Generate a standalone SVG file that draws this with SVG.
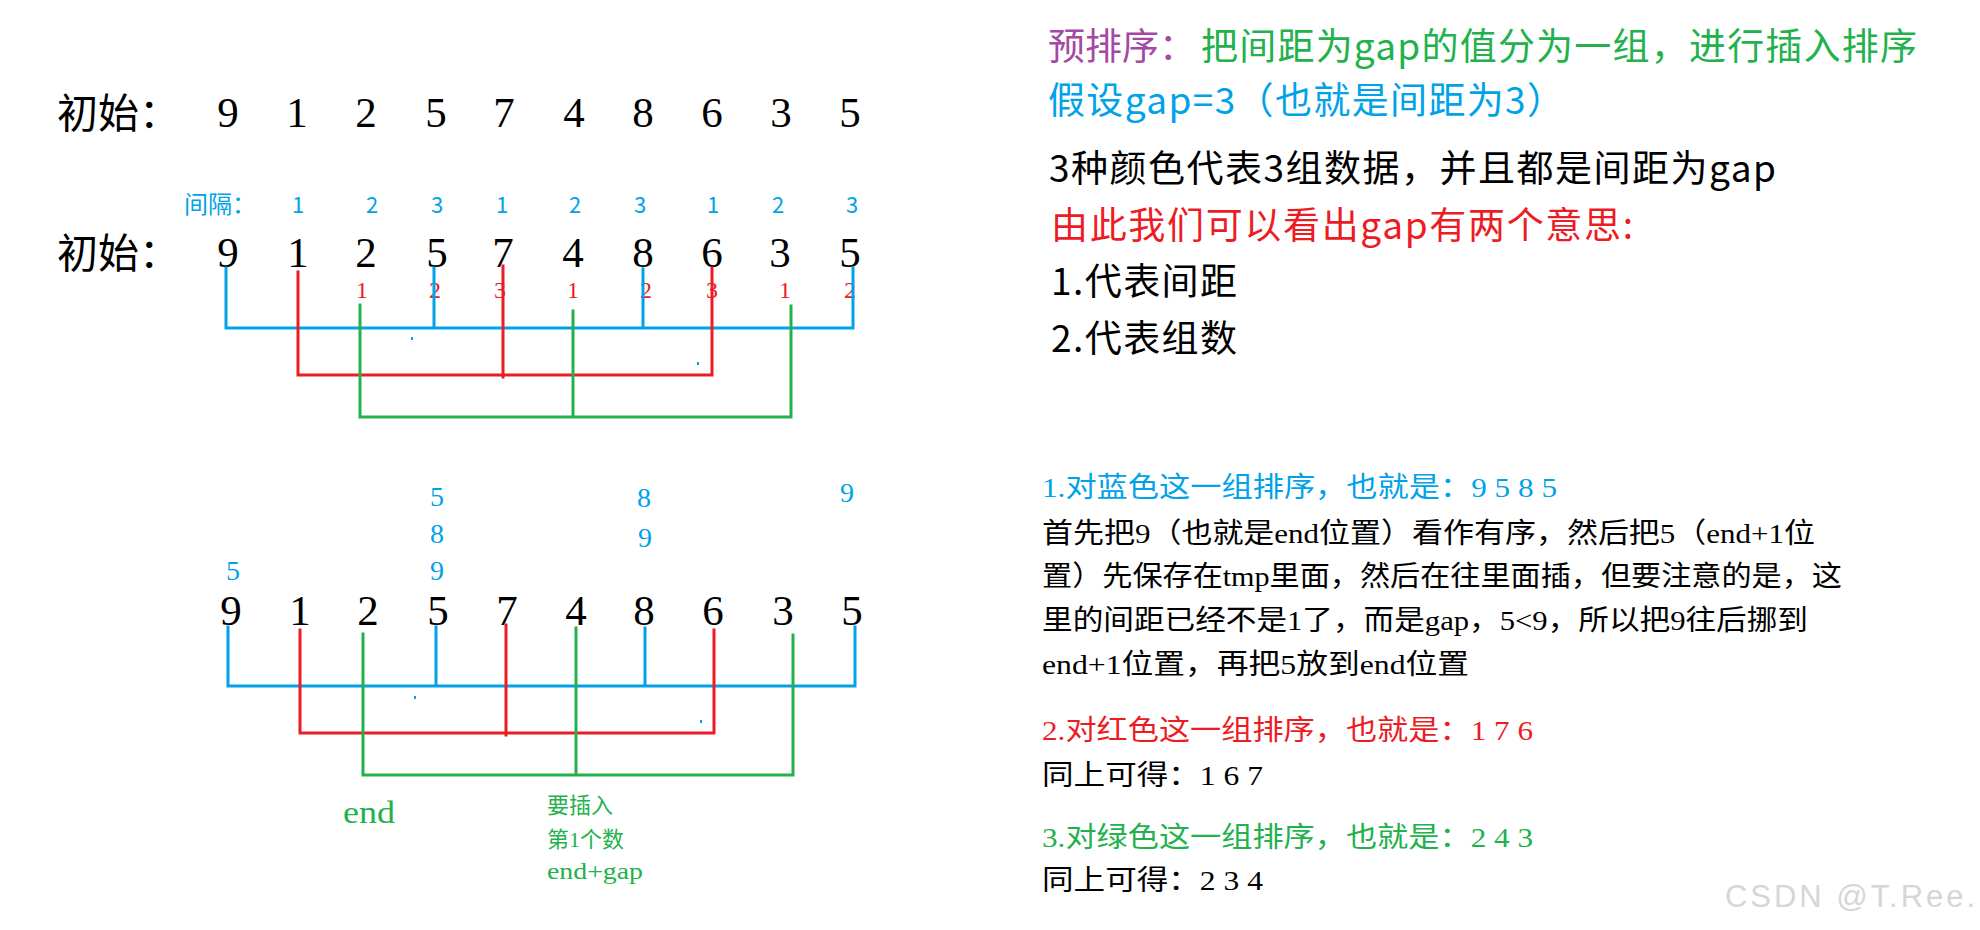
<svg xmlns="http://www.w3.org/2000/svg" width="1980" height="930" viewBox="0 0 1980 930">
<style>
.cjk{font-family:"Noto Sans CJK SC","Noto Sans",sans-serif}
.ser{font-family:"Liberation Serif","Noto Sans CJK SC",serif}
.dig{font-family:"Liberation Serif",serif;text-anchor:middle}
.bk{fill:#000}
.bl{fill:#00A2E8}
.rd{fill:#ED1C24}
.gr{fill:#22B14C}
.pu{fill:#A349A4}
.big{font-size:43px}
.lb,.lr,.lg{fill:none;stroke-width:3;stroke-linecap:square}
.lb{stroke:#00A2E8}
.lr{stroke:#ED1C24}
.lg{stroke:#22B14C}
</style>
<rect width="1980" height="930" fill="#fff"/>

<g id="row1">
<text class="cjk bk" x="57" y="128" font-size="41">初始：</text>
<g class="dig bk big">
<text x="228" y="127">9</text><text x="297" y="127">1</text><text x="366" y="127">2</text><text x="436" y="127">5</text><text x="504" y="127">7</text><text x="574" y="127">4</text><text x="643" y="127">8</text><text x="712" y="127">6</text><text x="781" y="127">3</text><text x="850" y="127">5</text>
</g>
</g>

<g id="gap-labels">
<text class="cjk bl" x="184" y="213" font-size="24">间隔：</text>
<g class="cjk bl" font-size="22" text-anchor="middle">
<text x="298" y="213">1</text><text x="372" y="213">2</text><text x="437" y="213">3</text><text x="502" y="213">1</text><text x="575" y="213">2</text><text x="640" y="213">3</text><text x="713" y="213">1</text><text x="778" y="213">2</text><text x="852" y="213">3</text>
</g>
</g>

<g id="row2">
<text class="cjk bk" x="57" y="268" font-size="41">初始：</text>
<g class="dig bk big">
<text x="228" y="267">9</text><text x="298" y="267">1</text><text x="366" y="267">2</text><text x="437" y="267">5</text><text x="503" y="267">7</text><text x="573" y="267">4</text><text x="643" y="267">8</text><text x="712" y="267">6</text><text x="780" y="267">3</text><text x="850" y="267">5</text>
</g>
<g class="dig rd" font-size="24">
<text x="362" y="298">1</text><text x="435" y="298">2</text><text x="500" y="298">3</text><text x="573" y="298">1</text><text x="646" y="298">2</text><text x="712" y="298">3</text><text x="785" y="298">1</text><text x="850" y="298">2</text>
</g>
</g>

<g id="row3">
<g class="dig bl" font-size="28">
<text x="233" y="580">5</text>
<text x="437" y="506">5</text><text x="437" y="543">8</text><text x="437" y="580">9</text>
<text x="644" y="507">8</text><text x="645" y="547">9</text>
<text x="847" y="502">9</text>
</g>
<g class="dig bk big">
<text x="231" y="625">9</text><text x="300" y="625">1</text><text x="368" y="625">2</text><text x="438" y="625">5</text><text x="507" y="625">7</text><text x="576" y="625">4</text><text x="644" y="625">8</text><text x="713" y="625">6</text><text x="783" y="625">3</text><text x="852" y="625">5</text>
</g>
<text class="ser gr" x="343" y="823" font-size="31" textLength="52" lengthAdjust="spacingAndGlyphs">end</text>
<text class="ser gr" x="547" y="813" font-size="22">要插入</text>
<text class="ser gr" x="547" y="847" font-size="22">第1个数</text>
<text class="ser gr" x="547" y="879" font-size="24" textLength="96" lengthAdjust="spacingAndGlyphs">end+gap</text>
</g>

<g id="connectors">
<path class="lb" d="M226 268 V328 H853 V268 M434 268 V328 M643 269 V328"/>
<path class="lr" d="M298 272 V375 H712 V268 M503 266 V377"/>
<path class="lg" d="M360 305 V417 H791 V306 M573 311 V417"/>
<path class="lb" d="M228 627 V686 H855 V627 M436 627 V686 M645 628 V686"/>
<path class="lr" d="M300 630 V733 H714 V630 M506 625 V735"/>
<path class="lg" d="M363 634 V775 H793 V635 M576 628 V775"/>
<g fill="#00A2E8">
<rect x="411" y="337" width="2" height="3"/>
<rect x="697" y="362" width="2" height="3"/>
<rect x="414" y="696" width="2" height="3"/>
<rect x="700" y="720" width="2" height="3"/>
</g>
</g>

<g id="notes-top" class="cjk" font-size="37">
<text class="pu" x="1048" y="60">预排序：</text>
<text class="gr" x="1201" y="60" textLength="716">把间距为gap的值分为一组，进行插入排序</text>
<text class="bl" x="1048" y="114" textLength="516">假设gap=3（也就是间距为3）</text>
<text class="bk" x="1049" y="182" textLength="727">3种颜色代表3组数据，并且都是间距为gap</text>
<text class="rd" x="1051" y="239" textLength="582">由此我们可以看出gap有两个意思:</text>
<text class="bk" x="1051" y="295" textLength="186">1.代表间距</text>
<text class="bk" x="1051" y="352" textLength="186">2.代表组数</text>
</g>

<g id="notes-bottom" class="ser" font-size="28">
<text class="bl" x="1042" y="497" textLength="515" lengthAdjust="spacingAndGlyphs">1.对蓝色这一组排序，也就是：9 5 8 5</text>
<text class="bk" x="1042" y="543" textLength="773" lengthAdjust="spacingAndGlyphs">首先把9（也就是end位置）看作有序，然后把5（end+1位</text>
<text class="bk" x="1042" y="586" textLength="800" lengthAdjust="spacingAndGlyphs">置）先保存在tmp里面，然后在往里面插，但要注意的是，这</text>
<text class="bk" x="1042" y="630" textLength="766" lengthAdjust="spacingAndGlyphs">里的间距已经不是1了，而是gap，5&lt;9，所以把9往后挪到</text>
<text class="bk" x="1042" y="674" textLength="427" lengthAdjust="spacingAndGlyphs">end+1位置，再把5放到end位置</text>
<text class="rd" x="1042" y="740" textLength="491" lengthAdjust="spacingAndGlyphs">2.对红色这一组排序，也就是：1 7 6</text>
<text class="bk" x="1042" y="785" textLength="221" lengthAdjust="spacingAndGlyphs">同上可得：1 6 7</text>
<text class="gr" x="1042" y="847" textLength="491" lengthAdjust="spacingAndGlyphs">3.对绿色这一组排序，也就是：2 4 3</text>
<text class="bk" x="1042" y="890" textLength="221" lengthAdjust="spacingAndGlyphs">同上可得：2 3 4</text>
</g>

<g id="watermark">
<text x="1725" y="907" font-family="Liberation Sans, Arial, sans-serif" font-size="31" textLength="250" fill="#d6d6d6">CSDN @T.Ree.</text>
</g>
</svg>
